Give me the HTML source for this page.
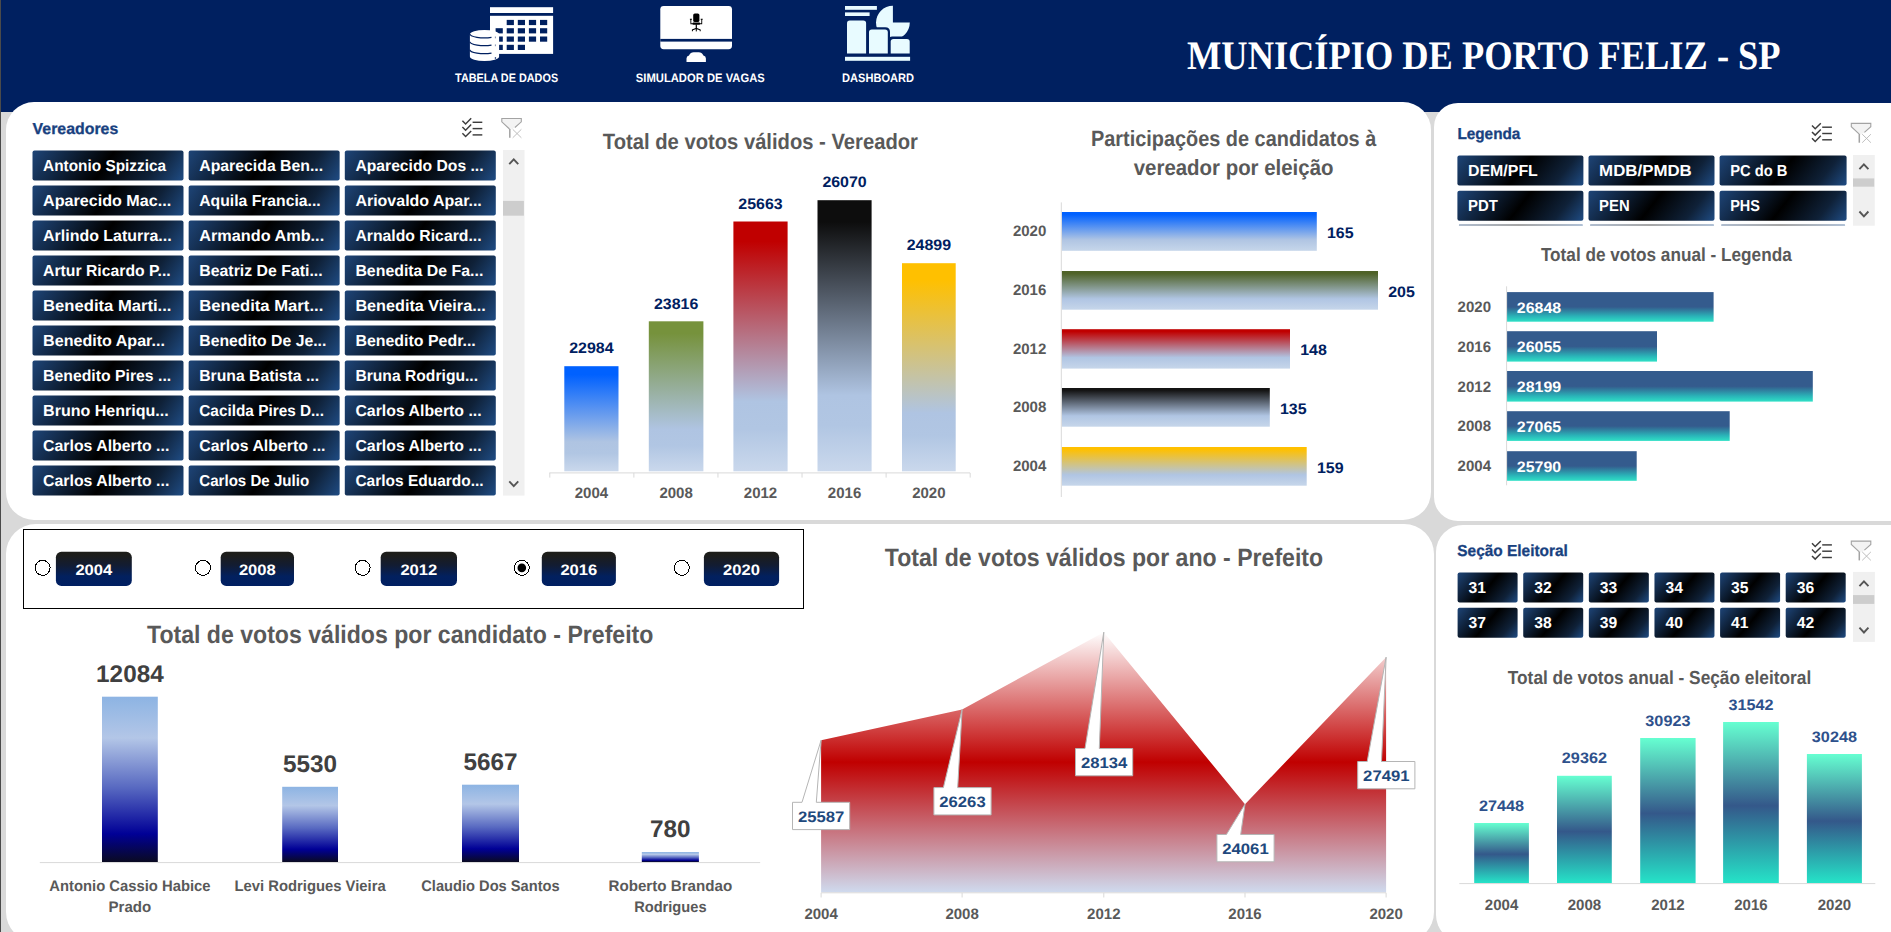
<!DOCTYPE html>
<html lang="pt-BR"><head><meta charset="utf-8"><title>Município de Porto Feliz - SP</title>
<style>
html,body{margin:0;padding:0}
body{width:1891px;height:932px;overflow:hidden;background:#d9d9d9;position:relative;font-family:"Liberation Sans",sans-serif}
#hdr{position:absolute;left:0;top:0;width:1891px;height:111.6px;background:#002060}
.p{position:absolute;background:#fff}
#strip{position:absolute;left:0;top:0;width:1.3px;height:932px;background:#4a4a4a}
.sb,.sb2,.sb3,.sbl{position:absolute;left:0;top:0;border-radius:2px}
.sb{background:linear-gradient(124deg,#1e4578 0%,#000 48%,#0f2138 78%,#1f4c84 100%)}
.sb2{background:linear-gradient(130deg,#1e4578 0%,#000 50%,#0f2138 80%,#1f4c84 100%)}
.sbl{background:linear-gradient(128deg,#1e4578 0%,#000 50%,#0f2138 80%,#1f4c84 100%)}
.sb3{background:linear-gradient(90deg,#1d4376 0%,#000 48%,#1f4f8b 100%);border-radius:1px}
svg{position:absolute;left:0;top:0}
</style></head>
<body>
<div id="hdr"></div>
<div class="p" style="left:6px;top:101.7px;width:1425.3px;height:418.3px;border-radius:28px"></div><div class="p" style="left:1434.2px;top:103px;width:495.8px;height:417.6px;border-radius:24px"></div><div class="p" style="left:6px;top:524.2px;width:1428.3px;height:417.8px;border-radius:30px"></div><div class="p" style="left:1435.7px;top:524.6px;width:494.3px;height:417.4px;border-radius:27px"></div>
<div id="strip"></div>
<div class="sb" style="transform:translate(32.50px,150.50px);width:151.00px;height:30.00px"></div><div class="sb" style="transform:translate(188.65px,150.50px);width:151.00px;height:30.00px"></div><div class="sb" style="transform:translate(344.80px,150.50px);width:151.00px;height:30.00px"></div><div class="sb" style="transform:translate(32.50px,185.50px);width:151.00px;height:30.00px"></div><div class="sb" style="transform:translate(188.65px,185.50px);width:151.00px;height:30.00px"></div><div class="sb" style="transform:translate(344.80px,185.50px);width:151.00px;height:30.00px"></div><div class="sb" style="transform:translate(32.50px,220.50px);width:151.00px;height:30.00px"></div><div class="sb" style="transform:translate(188.65px,220.50px);width:151.00px;height:30.00px"></div><div class="sb" style="transform:translate(344.80px,220.50px);width:151.00px;height:30.00px"></div><div class="sb" style="transform:translate(32.50px,255.50px);width:151.00px;height:30.00px"></div><div class="sb" style="transform:translate(188.65px,255.50px);width:151.00px;height:30.00px"></div><div class="sb" style="transform:translate(344.80px,255.50px);width:151.00px;height:30.00px"></div><div class="sb" style="transform:translate(32.50px,290.50px);width:151.00px;height:30.00px"></div><div class="sb" style="transform:translate(188.65px,290.50px);width:151.00px;height:30.00px"></div><div class="sb" style="transform:translate(344.80px,290.50px);width:151.00px;height:30.00px"></div><div class="sb" style="transform:translate(32.50px,325.50px);width:151.00px;height:30.00px"></div><div class="sb" style="transform:translate(188.65px,325.50px);width:151.00px;height:30.00px"></div><div class="sb" style="transform:translate(344.80px,325.50px);width:151.00px;height:30.00px"></div><div class="sb" style="transform:translate(32.50px,360.50px);width:151.00px;height:30.00px"></div><div class="sb" style="transform:translate(188.65px,360.50px);width:151.00px;height:30.00px"></div><div class="sb" style="transform:translate(344.80px,360.50px);width:151.00px;height:30.00px"></div><div class="sb" style="transform:translate(32.50px,395.50px);width:151.00px;height:30.00px"></div><div class="sb" style="transform:translate(188.65px,395.50px);width:151.00px;height:30.00px"></div><div class="sb" style="transform:translate(344.80px,395.50px);width:151.00px;height:30.00px"></div><div class="sb" style="transform:translate(32.50px,430.50px);width:151.00px;height:30.00px"></div><div class="sb" style="transform:translate(188.65px,430.50px);width:151.00px;height:30.00px"></div><div class="sb" style="transform:translate(344.80px,430.50px);width:151.00px;height:30.00px"></div><div class="sb" style="transform:translate(32.50px,465.50px);width:151.00px;height:30.00px"></div><div class="sb" style="transform:translate(188.65px,465.50px);width:151.00px;height:30.00px"></div><div class="sb" style="transform:translate(344.80px,465.50px);width:151.00px;height:30.00px"></div><div class="sbl" style="transform:translate(1457.40px,155.50px);width:126.30px;height:29.60px"></div><div class="sbl" style="transform:translate(1588.50px,155.50px);width:126.30px;height:29.60px"></div><div class="sbl" style="transform:translate(1719.60px,155.50px);width:127.00px;height:29.60px"></div><div class="sbl" style="transform:translate(1457.40px,190.80px);width:126.30px;height:29.60px"></div><div class="sbl" style="transform:translate(1588.50px,190.80px);width:126.30px;height:29.60px"></div><div class="sbl" style="transform:translate(1719.60px,190.80px);width:127.00px;height:29.60px"></div><div class="sb3" style="transform:translate(1458.90px,224.5px);width:123.50px;height:1.1px;opacity:.7"></div><div class="sb3" style="transform:translate(1590.00px,224.5px);width:123.50px;height:1.1px;opacity:.7"></div><div class="sb3" style="transform:translate(1721.10px,224.5px);width:123.50px;height:1.1px;opacity:.7"></div><div class="sb2" style="transform:translate(1457.60px,572.40px);width:60.40px;height:29.80px"></div><div class="sb2" style="transform:translate(1523.22px,572.40px);width:60.40px;height:29.80px"></div><div class="sb2" style="transform:translate(1588.84px,572.40px);width:60.40px;height:29.80px"></div><div class="sb2" style="transform:translate(1654.46px,572.40px);width:60.40px;height:29.80px"></div><div class="sb2" style="transform:translate(1720.08px,572.40px);width:60.40px;height:29.80px"></div><div class="sb2" style="transform:translate(1785.70px,572.40px);width:60.40px;height:29.80px"></div><div class="sb2" style="transform:translate(1457.60px,607.70px);width:60.40px;height:29.80px"></div><div class="sb2" style="transform:translate(1523.22px,607.70px);width:60.40px;height:29.80px"></div><div class="sb2" style="transform:translate(1588.84px,607.70px);width:60.40px;height:29.80px"></div><div class="sb2" style="transform:translate(1654.46px,607.70px);width:60.40px;height:29.80px"></div><div class="sb2" style="transform:translate(1720.08px,607.70px);width:60.40px;height:29.80px"></div><div class="sb2" style="transform:translate(1785.70px,607.70px);width:60.40px;height:29.80px"></div>
<svg width="1891" height="932" viewBox="0 0 1891 932" text-rendering="geometricPrecision">
<defs><linearGradient id="c1g0" x1="0" y1="0" x2="0" y2="1"><stop offset="0" stop-color="#0061ff"/><stop offset="0.08" stop-color="#0061ff"/><stop offset="0.72" stop-color="#afc4e2"/><stop offset="0.83" stop-color="#b1c6e3"/><stop offset="1" stop-color="#cad8ec"/></linearGradient><linearGradient id="c1g1" x1="0" y1="0" x2="0" y2="1"><stop offset="0" stop-color="#76923c"/><stop offset="0.08" stop-color="#76923c"/><stop offset="0.72" stop-color="#afc4e2"/><stop offset="0.83" stop-color="#b1c6e3"/><stop offset="1" stop-color="#cad8ec"/></linearGradient><linearGradient id="c1g2" x1="0" y1="0" x2="0" y2="1"><stop offset="0" stop-color="#c00000"/><stop offset="0.08" stop-color="#c00000"/><stop offset="0.72" stop-color="#afc4e2"/><stop offset="0.83" stop-color="#b1c6e3"/><stop offset="1" stop-color="#cad8ec"/></linearGradient><linearGradient id="c1g3" x1="0" y1="0" x2="0" y2="1"><stop offset="0" stop-color="#0d0d0d"/><stop offset="0.08" stop-color="#0d0d0d"/><stop offset="0.72" stop-color="#afc4e2"/><stop offset="0.83" stop-color="#b1c6e3"/><stop offset="1" stop-color="#cad8ec"/></linearGradient><linearGradient id="c1g4" x1="0" y1="0" x2="0" y2="1"><stop offset="0" stop-color="#ffc000"/><stop offset="0.08" stop-color="#ffc000"/><stop offset="0.72" stop-color="#afc4e2"/><stop offset="0.83" stop-color="#b1c6e3"/><stop offset="1" stop-color="#cad8ec"/></linearGradient><linearGradient id="c2g0" x1="0" y1="0" x2="0" y2="1"><stop offset="0" stop-color="#0061ff"/><stop offset="0.06" stop-color="#0061ff"/><stop offset="0.72" stop-color="#b0c5e3"/><stop offset="1" stop-color="#c6d6ea"/></linearGradient><linearGradient id="c2g1" x1="0" y1="0" x2="0" y2="1"><stop offset="0" stop-color="#4f6228"/><stop offset="0.06" stop-color="#4f6228"/><stop offset="0.72" stop-color="#b0c5e3"/><stop offset="1" stop-color="#c6d6ea"/></linearGradient><linearGradient id="c2g2" x1="0" y1="0" x2="0" y2="1"><stop offset="0" stop-color="#c00000"/><stop offset="0.06" stop-color="#c00000"/><stop offset="0.72" stop-color="#b0c5e3"/><stop offset="1" stop-color="#c6d6ea"/></linearGradient><linearGradient id="c2g3" x1="0" y1="0" x2="0" y2="1"><stop offset="0" stop-color="#141414"/><stop offset="0.06" stop-color="#141414"/><stop offset="0.72" stop-color="#b0c5e3"/><stop offset="1" stop-color="#c6d6ea"/></linearGradient><linearGradient id="c2g4" x1="0" y1="0" x2="0" y2="1"><stop offset="0" stop-color="#ffc000"/><stop offset="0.06" stop-color="#ffc000"/><stop offset="0.72" stop-color="#b0c5e3"/><stop offset="1" stop-color="#c6d6ea"/></linearGradient><linearGradient id="c3g" x1="0" y1="0" x2="0" y2="1"><stop offset="0" stop-color="#345b8d"/><stop offset="0.5" stop-color="#345b8d"/><stop offset="0.82" stop-color="#2ab4b8"/><stop offset="1" stop-color="#2fe0c6"/></linearGradient><linearGradient id="rbg" x1="0" y1="0" x2="0" y2="1"><stop offset="0" stop-color="#1d1d18"/><stop offset="0.12" stop-color="#1c1d1c"/><stop offset="0.4" stop-color="#121c33"/><stop offset="0.72" stop-color="#02205e"/><stop offset="1" stop-color="#001f62"/></linearGradient><linearGradient id="c4g" x1="0" y1="0" x2="0" y2="1"><stop offset="0" stop-color="#8db4e3"/><stop offset="0.25" stop-color="#b3c6e7"/><stop offset="0.55" stop-color="#5869c1"/><stop offset="0.83" stop-color="#000096"/><stop offset="1" stop-color="#0a0a22"/></linearGradient><linearGradient id="arg" gradientUnits="userSpaceOnUse" x1="0" y1="632" x2="0" y2="892.3"><stop offset="0" stop-color="#ffffff"/><stop offset="0.5" stop-color="#c00000"/><stop offset="1" stop-color="#cfdaee"/></linearGradient><linearGradient id="c6g" x1="0" y1="0" x2="0" y2="1"><stop offset="0" stop-color="#66ffd1"/><stop offset="0.52" stop-color="#34588a"/><stop offset="1" stop-color="#25e3c8"/></linearGradient></defs>
<text x="32.60" y="133.60" font-family="Liberation Sans, sans-serif" font-size="15.90" font-weight="700" fill="#18417f" text-anchor="start" textLength="85.64" lengthAdjust="spacingAndGlyphs" stroke="#18417f" stroke-width="0.3">Vereadores</text>
<g transform="translate(461.90,117.90)" fill="none" stroke="#3d3d3d" stroke-width="1.45"><path d="M0.5 2.80 L3.7 6.00 L9.3 0.40"/><path d="M10.7 4.40 H20.4"/><path d="M0.5 9.10 L3.7 12.30 L9.3 6.70"/><path d="M10.7 10.70 H20.4"/><path d="M0.5 15.40 L3.7 18.60 L9.3 13.00"/><path d="M10.7 17.00 H20.4"/></g>
<g transform="translate(501.00,117.90)" fill="none" stroke="#a3a3a3" stroke-width="1.1"><path d="M0.8 0.6 H20.3 V3.9 L13.6 9.9 L9.1 12.2 V19.8 H8.4 V11 L0.8 3.9 Z" fill="#f3f3f3" stroke="none"/><path d="M13.9 9.6 L20.3 3.9 V0.6 H0.8 V3.9 L8.5 11.1" /><path d="M8.8 11 V19.9" stroke-width="1.5"/><path d="M11.7 11.4 L20.4 19.9 M20.4 11.4 L11.7 19.9" stroke="#b8b8b8" stroke-width="0.9"/></g>
<text x="43.10" y="170.80" font-family="Liberation Sans, sans-serif" font-size="15.90" font-weight="700" fill="#fff" text-anchor="start" textLength="122.95" lengthAdjust="spacingAndGlyphs">Antonio Spizzica</text>
<text x="199.25" y="170.80" font-family="Liberation Sans, sans-serif" font-size="15.90" font-weight="700" fill="#fff" text-anchor="start" textLength="123.88" lengthAdjust="spacingAndGlyphs">Aparecida Ben...</text>
<text x="355.40" y="170.80" font-family="Liberation Sans, sans-serif" font-size="15.90" font-weight="700" fill="#fff" text-anchor="start" textLength="128.17" lengthAdjust="spacingAndGlyphs">Aparecido Dos ...</text>
<text x="43.10" y="205.80" font-family="Liberation Sans, sans-serif" font-size="15.90" font-weight="700" fill="#fff" text-anchor="start" textLength="128.05" lengthAdjust="spacingAndGlyphs">Aparecido Mac...</text>
<text x="199.25" y="205.80" font-family="Liberation Sans, sans-serif" font-size="15.90" font-weight="700" fill="#fff" text-anchor="start" textLength="121.43" lengthAdjust="spacingAndGlyphs">Aquila Francia...</text>
<text x="355.40" y="205.80" font-family="Liberation Sans, sans-serif" font-size="15.90" font-weight="700" fill="#fff" text-anchor="start" textLength="126.40" lengthAdjust="spacingAndGlyphs">Ariovaldo Apar...</text>
<text x="43.10" y="240.80" font-family="Liberation Sans, sans-serif" font-size="15.90" font-weight="700" fill="#fff" text-anchor="start" textLength="128.57" lengthAdjust="spacingAndGlyphs">Arlindo Laturra...</text>
<text x="199.25" y="240.80" font-family="Liberation Sans, sans-serif" font-size="15.90" font-weight="700" fill="#fff" text-anchor="start" textLength="124.91" lengthAdjust="spacingAndGlyphs">Armando Amb...</text>
<text x="355.40" y="240.80" font-family="Liberation Sans, sans-serif" font-size="15.90" font-weight="700" fill="#fff" text-anchor="start" textLength="126.19" lengthAdjust="spacingAndGlyphs">Arnaldo Ricard...</text>
<text x="43.10" y="275.80" font-family="Liberation Sans, sans-serif" font-size="15.90" font-weight="700" fill="#fff" text-anchor="start" textLength="127.55" lengthAdjust="spacingAndGlyphs">Artur Ricardo P...</text>
<text x="199.25" y="275.80" font-family="Liberation Sans, sans-serif" font-size="15.90" font-weight="700" fill="#fff" text-anchor="start" textLength="123.44" lengthAdjust="spacingAndGlyphs">Beatriz De Fati...</text>
<text x="355.40" y="275.80" font-family="Liberation Sans, sans-serif" font-size="15.90" font-weight="700" fill="#fff" text-anchor="start" textLength="127.94" lengthAdjust="spacingAndGlyphs">Benedita De Fa...</text>
<text x="43.10" y="310.80" font-family="Liberation Sans, sans-serif" font-size="15.90" font-weight="700" fill="#fff" text-anchor="start" textLength="128.37" lengthAdjust="spacingAndGlyphs">Benedita Marti...</text>
<text x="199.25" y="310.80" font-family="Liberation Sans, sans-serif" font-size="15.90" font-weight="700" fill="#fff" text-anchor="start" textLength="124.02" lengthAdjust="spacingAndGlyphs">Benedita Mart...</text>
<text x="355.40" y="310.80" font-family="Liberation Sans, sans-serif" font-size="15.90" font-weight="700" fill="#fff" text-anchor="start" textLength="130.27" lengthAdjust="spacingAndGlyphs">Benedita Vieira...</text>
<text x="43.10" y="345.80" font-family="Liberation Sans, sans-serif" font-size="15.90" font-weight="700" fill="#fff" text-anchor="start" textLength="121.80" lengthAdjust="spacingAndGlyphs">Benedito Apar...</text>
<text x="199.25" y="345.80" font-family="Liberation Sans, sans-serif" font-size="15.90" font-weight="700" fill="#fff" text-anchor="start" textLength="127.09" lengthAdjust="spacingAndGlyphs">Benedito De Je...</text>
<text x="355.40" y="345.80" font-family="Liberation Sans, sans-serif" font-size="15.90" font-weight="700" fill="#fff" text-anchor="start" textLength="120.34" lengthAdjust="spacingAndGlyphs">Benedito Pedr...</text>
<text x="43.10" y="380.80" font-family="Liberation Sans, sans-serif" font-size="15.90" font-weight="700" fill="#fff" text-anchor="start" textLength="128.11" lengthAdjust="spacingAndGlyphs">Benedito Pires ...</text>
<text x="199.25" y="380.80" font-family="Liberation Sans, sans-serif" font-size="15.90" font-weight="700" fill="#fff" text-anchor="start" textLength="119.85" lengthAdjust="spacingAndGlyphs">Bruna Batista ...</text>
<text x="355.40" y="380.80" font-family="Liberation Sans, sans-serif" font-size="15.90" font-weight="700" fill="#fff" text-anchor="start" textLength="122.70" lengthAdjust="spacingAndGlyphs">Bruna Rodrigu...</text>
<text x="43.10" y="415.80" font-family="Liberation Sans, sans-serif" font-size="15.90" font-weight="700" fill="#fff" text-anchor="start" textLength="125.57" lengthAdjust="spacingAndGlyphs">Bruno Henriqu...</text>
<text x="199.25" y="415.80" font-family="Liberation Sans, sans-serif" font-size="15.90" font-weight="700" fill="#fff" text-anchor="start" textLength="124.66" lengthAdjust="spacingAndGlyphs">Cacilda Pires D...</text>
<text x="355.40" y="415.80" font-family="Liberation Sans, sans-serif" font-size="15.90" font-weight="700" fill="#fff" text-anchor="start" textLength="126.23" lengthAdjust="spacingAndGlyphs">Carlos Alberto ...</text>
<text x="43.10" y="450.80" font-family="Liberation Sans, sans-serif" font-size="15.90" font-weight="700" fill="#fff" text-anchor="start" textLength="126.23" lengthAdjust="spacingAndGlyphs">Carlos Alberto ...</text>
<text x="199.25" y="450.80" font-family="Liberation Sans, sans-serif" font-size="15.90" font-weight="700" fill="#fff" text-anchor="start" textLength="126.23" lengthAdjust="spacingAndGlyphs">Carlos Alberto ...</text>
<text x="355.40" y="450.80" font-family="Liberation Sans, sans-serif" font-size="15.90" font-weight="700" fill="#fff" text-anchor="start" textLength="126.23" lengthAdjust="spacingAndGlyphs">Carlos Alberto ...</text>
<text x="43.10" y="485.80" font-family="Liberation Sans, sans-serif" font-size="15.90" font-weight="700" fill="#fff" text-anchor="start" textLength="126.23" lengthAdjust="spacingAndGlyphs">Carlos Alberto ...</text>
<text x="199.25" y="485.80" font-family="Liberation Sans, sans-serif" font-size="15.90" font-weight="700" fill="#fff" text-anchor="start" textLength="109.98" lengthAdjust="spacingAndGlyphs">Carlos De Julio</text>
<text x="355.40" y="485.80" font-family="Liberation Sans, sans-serif" font-size="15.90" font-weight="700" fill="#fff" text-anchor="start" textLength="128.23" lengthAdjust="spacingAndGlyphs">Carlos Eduardo...</text>
<rect x="503.00" y="150.00" width="21.50" height="345.60" fill="#f0f0f0"/>
<rect x="503.00" y="200.90" width="20.90" height="14.80" fill="#cdcdcd"/>
<path d="M509.25 164.20 L513.75 159.40 L518.25 164.20" fill="none" stroke="#555" stroke-width="1.9"/>
<path d="M509.25 481.40 L513.75 486.20 L518.25 481.40" fill="none" stroke="#555" stroke-width="1.9"/>
<text x="760.40" y="149.20" font-family="Liberation Sans, sans-serif" font-size="22.00" font-weight="700" fill="#595959" text-anchor="middle" textLength="315.08" lengthAdjust="spacingAndGlyphs">Total de votos válidos - Vereador</text>
<rect x="564.30" y="366.20" width="54.20" height="105.10" fill="url(#c1g0)"/>
<text x="591.40" y="353.40" font-family="Liberation Sans, sans-serif" font-size="15.20" font-weight="700" fill="#002060" text-anchor="middle" textLength="44.35" lengthAdjust="spacingAndGlyphs">22984</text>
<text x="591.40" y="498.40" font-family="Liberation Sans, sans-serif" font-size="15.20" font-weight="700" fill="#595959" text-anchor="middle" textLength="33.45" lengthAdjust="spacingAndGlyphs">2004</text>
<rect x="648.80" y="321.30" width="54.60" height="150.00" fill="url(#c1g1)"/>
<text x="676.10" y="308.50" font-family="Liberation Sans, sans-serif" font-size="15.20" font-weight="700" fill="#002060" text-anchor="middle" textLength="44.35" lengthAdjust="spacingAndGlyphs">23816</text>
<text x="676.10" y="498.40" font-family="Liberation Sans, sans-serif" font-size="15.20" font-weight="700" fill="#595959" text-anchor="middle" textLength="33.45" lengthAdjust="spacingAndGlyphs">2008</text>
<rect x="733.40" y="221.50" width="54.20" height="249.80" fill="url(#c1g2)"/>
<text x="760.50" y="208.70" font-family="Liberation Sans, sans-serif" font-size="15.20" font-weight="700" fill="#002060" text-anchor="middle" textLength="44.35" lengthAdjust="spacingAndGlyphs">25663</text>
<text x="760.50" y="498.40" font-family="Liberation Sans, sans-serif" font-size="15.20" font-weight="700" fill="#595959" text-anchor="middle" textLength="33.45" lengthAdjust="spacingAndGlyphs">2012</text>
<rect x="817.50" y="200.20" width="54.10" height="271.10" fill="url(#c1g3)"/>
<text x="844.55" y="187.40" font-family="Liberation Sans, sans-serif" font-size="15.20" font-weight="700" fill="#002060" text-anchor="middle" textLength="44.35" lengthAdjust="spacingAndGlyphs">26070</text>
<text x="844.55" y="498.40" font-family="Liberation Sans, sans-serif" font-size="15.20" font-weight="700" fill="#595959" text-anchor="middle" textLength="33.45" lengthAdjust="spacingAndGlyphs">2016</text>
<rect x="902.00" y="263.20" width="53.70" height="208.10" fill="url(#c1g4)"/>
<text x="928.85" y="250.40" font-family="Liberation Sans, sans-serif" font-size="15.20" font-weight="700" fill="#002060" text-anchor="middle" textLength="44.35" lengthAdjust="spacingAndGlyphs">24899</text>
<text x="928.85" y="498.40" font-family="Liberation Sans, sans-serif" font-size="15.20" font-weight="700" fill="#595959" text-anchor="middle" textLength="33.45" lengthAdjust="spacingAndGlyphs">2020</text>
<line x1="549.40" y1="472.90" x2="970.00" y2="472.90" stroke="#d9d9d9" stroke-width="1"/>
<line x1="549.80" y1="472.90" x2="549.80" y2="477.60" stroke="#d9d9d9" stroke-width="1"/>
<line x1="633.88" y1="472.90" x2="633.88" y2="477.60" stroke="#d9d9d9" stroke-width="1"/>
<line x1="717.96" y1="472.90" x2="717.96" y2="477.60" stroke="#d9d9d9" stroke-width="1"/>
<line x1="802.04" y1="472.90" x2="802.04" y2="477.60" stroke="#d9d9d9" stroke-width="1"/>
<line x1="886.12" y1="472.90" x2="886.12" y2="477.60" stroke="#d9d9d9" stroke-width="1"/>
<line x1="970.20" y1="472.90" x2="970.20" y2="477.60" stroke="#d9d9d9" stroke-width="1"/>
<text x="1233.60" y="146.30" font-family="Liberation Sans, sans-serif" font-size="22.00" font-weight="700" fill="#595959" text-anchor="middle" textLength="285.25" lengthAdjust="spacingAndGlyphs">Participações de candidatos à</text>
<text x="1233.60" y="175.00" font-family="Liberation Sans, sans-serif" font-size="22.00" font-weight="700" fill="#595959" text-anchor="middle" textLength="199.75" lengthAdjust="spacingAndGlyphs">vereador por eleição</text>
<rect x="1061.80" y="212.00" width="255.00" height="38.80" fill="url(#c2g0)"/>
<text x="1029.60" y="236.20" font-family="Liberation Sans, sans-serif" font-size="15.20" font-weight="700" fill="#595959" text-anchor="middle" textLength="33.45" lengthAdjust="spacingAndGlyphs">2020</text>
<text x="1327.00" y="237.80" font-family="Liberation Sans, sans-serif" font-size="15.20" font-weight="700" fill="#002060" text-anchor="start" textLength="26.61" lengthAdjust="spacingAndGlyphs">165</text>
<rect x="1061.80" y="271.00" width="316.20" height="38.70" fill="url(#c2g1)"/>
<text x="1029.60" y="295.15" font-family="Liberation Sans, sans-serif" font-size="15.20" font-weight="700" fill="#595959" text-anchor="middle" textLength="33.45" lengthAdjust="spacingAndGlyphs">2016</text>
<text x="1388.20" y="296.75" font-family="Liberation Sans, sans-serif" font-size="15.20" font-weight="700" fill="#002060" text-anchor="start" textLength="26.61" lengthAdjust="spacingAndGlyphs">205</text>
<rect x="1061.80" y="329.20" width="228.20" height="39.40" fill="url(#c2g2)"/>
<text x="1029.60" y="353.70" font-family="Liberation Sans, sans-serif" font-size="15.20" font-weight="700" fill="#595959" text-anchor="middle" textLength="33.45" lengthAdjust="spacingAndGlyphs">2012</text>
<text x="1300.20" y="355.30" font-family="Liberation Sans, sans-serif" font-size="15.20" font-weight="700" fill="#002060" text-anchor="start" textLength="26.61" lengthAdjust="spacingAndGlyphs">148</text>
<rect x="1061.80" y="388.00" width="208.00" height="38.70" fill="url(#c2g3)"/>
<text x="1029.60" y="412.15" font-family="Liberation Sans, sans-serif" font-size="15.20" font-weight="700" fill="#595959" text-anchor="middle" textLength="33.45" lengthAdjust="spacingAndGlyphs">2008</text>
<text x="1280.00" y="413.75" font-family="Liberation Sans, sans-serif" font-size="15.20" font-weight="700" fill="#002060" text-anchor="start" textLength="26.61" lengthAdjust="spacingAndGlyphs">135</text>
<rect x="1061.80" y="447.00" width="244.90" height="38.70" fill="url(#c2g4)"/>
<text x="1029.60" y="471.15" font-family="Liberation Sans, sans-serif" font-size="15.20" font-weight="700" fill="#595959" text-anchor="middle" textLength="33.45" lengthAdjust="spacingAndGlyphs">2004</text>
<text x="1316.90" y="472.75" font-family="Liberation Sans, sans-serif" font-size="15.20" font-weight="700" fill="#002060" text-anchor="start" textLength="26.61" lengthAdjust="spacingAndGlyphs">159</text>
<line x1="1061.30" y1="202.40" x2="1061.30" y2="497.00" stroke="#d9d9d9" stroke-width="1"/>
<text x="1457.40" y="139.00" font-family="Liberation Sans, sans-serif" font-size="15.90" font-weight="700" fill="#18417f" text-anchor="start" textLength="62.97" lengthAdjust="spacingAndGlyphs" stroke="#18417f" stroke-width="0.3">Legenda</text>
<g transform="translate(1811.50,122.80)" fill="none" stroke="#3d3d3d" stroke-width="1.45"><path d="M0.5 2.80 L3.7 6.00 L9.3 0.40"/><path d="M10.7 4.40 H20.4"/><path d="M0.5 9.10 L3.7 12.30 L9.3 6.70"/><path d="M10.7 10.70 H20.4"/><path d="M0.5 15.40 L3.7 18.60 L9.3 13.00"/><path d="M10.7 17.00 H20.4"/></g>
<g transform="translate(1850.50,122.80)" fill="none" stroke="#a3a3a3" stroke-width="1.1"><path d="M0.8 0.6 H20.3 V3.9 L13.6 9.9 L9.1 12.2 V19.8 H8.4 V11 L0.8 3.9 Z" fill="#f3f3f3" stroke="none"/><path d="M13.9 9.6 L20.3 3.9 V0.6 H0.8 V3.9 L8.5 11.1" /><path d="M8.8 11 V19.9" stroke-width="1.5"/><path d="M11.7 11.4 L20.4 19.9 M20.4 11.4 L11.7 19.9" stroke="#b8b8b8" stroke-width="0.9"/></g>
<text x="1468.00" y="175.80" font-family="Liberation Sans, sans-serif" font-size="15.90" font-weight="700" fill="#fff" text-anchor="start" textLength="69.82" lengthAdjust="spacingAndGlyphs">DEM/PFL</text>
<text x="1599.10" y="175.80" font-family="Liberation Sans, sans-serif" font-size="15.90" font-weight="700" fill="#fff" text-anchor="start" textLength="92.67" lengthAdjust="spacingAndGlyphs">MDB/PMDB</text>
<text x="1730.20" y="175.80" font-family="Liberation Sans, sans-serif" font-size="15.90" font-weight="700" fill="#fff" text-anchor="start" textLength="57.30" lengthAdjust="spacingAndGlyphs">PC do B</text>
<text x="1468.00" y="211.10" font-family="Liberation Sans, sans-serif" font-size="15.90" font-weight="700" fill="#fff" text-anchor="start" textLength="29.91" lengthAdjust="spacingAndGlyphs">PDT</text>
<text x="1599.10" y="211.10" font-family="Liberation Sans, sans-serif" font-size="15.90" font-weight="700" fill="#fff" text-anchor="start" textLength="30.55" lengthAdjust="spacingAndGlyphs">PEN</text>
<text x="1730.20" y="211.10" font-family="Liberation Sans, sans-serif" font-size="15.90" font-weight="700" fill="#fff" text-anchor="start" textLength="29.77" lengthAdjust="spacingAndGlyphs">PHS</text>
<rect x="1853.00" y="155.00" width="21.80" height="70.70" fill="#f0f0f0"/>
<rect x="1853.00" y="178.40" width="21.20" height="8.30" fill="#cdcdcd"/>
<path d="M1859.40 169.20 L1863.90 164.40 L1868.40 169.20" fill="none" stroke="#555" stroke-width="1.9"/>
<path d="M1859.40 211.50 L1863.90 216.30 L1868.40 211.50" fill="none" stroke="#555" stroke-width="1.9"/>
<text x="1666.30" y="261.00" font-family="Liberation Sans, sans-serif" font-size="18.86" font-weight="700" fill="#595959" text-anchor="middle" textLength="250.81" lengthAdjust="spacingAndGlyphs">Total de votos anual - Legenda</text>
<rect x="1507.00" y="292.10" width="206.60" height="29.60" fill="url(#c3g)"/>
<text x="1474.30" y="312.10" font-family="Liberation Sans, sans-serif" font-size="15.20" font-weight="700" fill="#595959" text-anchor="middle" textLength="33.45" lengthAdjust="spacingAndGlyphs">2020</text>
<text x="1516.80" y="312.90" font-family="Liberation Sans, sans-serif" font-size="15.20" font-weight="700" fill="#fff" text-anchor="start" textLength="44.35" lengthAdjust="spacingAndGlyphs">26848</text>
<rect x="1507.00" y="331.20" width="150.00" height="30.40" fill="url(#c3g)"/>
<text x="1474.30" y="351.60" font-family="Liberation Sans, sans-serif" font-size="15.20" font-weight="700" fill="#595959" text-anchor="middle" textLength="33.45" lengthAdjust="spacingAndGlyphs">2016</text>
<text x="1516.80" y="352.40" font-family="Liberation Sans, sans-serif" font-size="15.20" font-weight="700" fill="#fff" text-anchor="start" textLength="44.35" lengthAdjust="spacingAndGlyphs">26055</text>
<rect x="1507.00" y="371.00" width="305.80" height="30.60" fill="url(#c3g)"/>
<text x="1474.30" y="391.50" font-family="Liberation Sans, sans-serif" font-size="15.20" font-weight="700" fill="#595959" text-anchor="middle" textLength="33.45" lengthAdjust="spacingAndGlyphs">2012</text>
<text x="1516.80" y="392.30" font-family="Liberation Sans, sans-serif" font-size="15.20" font-weight="700" fill="#fff" text-anchor="start" textLength="44.35" lengthAdjust="spacingAndGlyphs">28199</text>
<rect x="1507.00" y="411.20" width="222.70" height="29.70" fill="url(#c3g)"/>
<text x="1474.30" y="431.25" font-family="Liberation Sans, sans-serif" font-size="15.20" font-weight="700" fill="#595959" text-anchor="middle" textLength="33.45" lengthAdjust="spacingAndGlyphs">2008</text>
<text x="1516.80" y="432.05" font-family="Liberation Sans, sans-serif" font-size="15.20" font-weight="700" fill="#fff" text-anchor="start" textLength="44.35" lengthAdjust="spacingAndGlyphs">27065</text>
<rect x="1507.00" y="451.20" width="129.70" height="29.60" fill="url(#c3g)"/>
<text x="1474.30" y="471.20" font-family="Liberation Sans, sans-serif" font-size="15.20" font-weight="700" fill="#595959" text-anchor="middle" textLength="33.45" lengthAdjust="spacingAndGlyphs">2004</text>
<text x="1516.80" y="472.00" font-family="Liberation Sans, sans-serif" font-size="15.20" font-weight="700" fill="#fff" text-anchor="start" textLength="44.35" lengthAdjust="spacingAndGlyphs">25790</text>
<line x1="1506.60" y1="286.30" x2="1506.60" y2="485.30" stroke="#d9d9d9" stroke-width="1"/>
<rect x="23.5" y="529.5" width="780" height="79" fill="none" stroke="#000" stroke-width="1"/>
<circle cx="42.6" cy="567.9" r="7.5" fill="#fff" stroke="#000" stroke-width="1" shape-rendering="crispEdges"/>
<rect x="55.9" y="551.8" width="75.90" height="34.1" rx="5.5" fill="url(#rbg)"/>
<text x="93.85" y="574.90" font-family="Liberation Sans, sans-serif" font-size="15.10" font-weight="700" fill="#fff" text-anchor="middle" textLength="36.90" lengthAdjust="spacingAndGlyphs">2004</text>
<circle cx="203.0" cy="567.9" r="7.5" fill="#fff" stroke="#000" stroke-width="1" shape-rendering="crispEdges"/>
<rect x="220.7" y="551.8" width="73.30" height="34.1" rx="5.5" fill="url(#rbg)"/>
<text x="257.35" y="574.90" font-family="Liberation Sans, sans-serif" font-size="15.10" font-weight="700" fill="#fff" text-anchor="middle" textLength="36.90" lengthAdjust="spacingAndGlyphs">2008</text>
<circle cx="362.6" cy="567.9" r="7.5" fill="#fff" stroke="#000" stroke-width="1" shape-rendering="crispEdges"/>
<rect x="380.7" y="551.8" width="76.30" height="34.1" rx="5.5" fill="url(#rbg)"/>
<text x="418.85" y="574.90" font-family="Liberation Sans, sans-serif" font-size="15.10" font-weight="700" fill="#fff" text-anchor="middle" textLength="36.90" lengthAdjust="spacingAndGlyphs">2012</text>
<circle cx="521.8" cy="567.9" r="7.5" fill="#fff" stroke="#000" stroke-width="1" shape-rendering="crispEdges"/>
<circle cx="521.8" cy="567.9" r="4.3" fill="#000"/>
<rect x="541.8" y="551.8" width="74.10" height="34.1" rx="5.5" fill="url(#rbg)"/>
<text x="578.85" y="574.90" font-family="Liberation Sans, sans-serif" font-size="15.10" font-weight="700" fill="#fff" text-anchor="middle" textLength="36.90" lengthAdjust="spacingAndGlyphs">2016</text>
<circle cx="681.8" cy="567.9" r="7.5" fill="#fff" stroke="#000" stroke-width="1" shape-rendering="crispEdges"/>
<rect x="703.9" y="551.8" width="75.20" height="34.1" rx="5.5" fill="url(#rbg)"/>
<text x="741.50" y="574.90" font-family="Liberation Sans, sans-serif" font-size="15.10" font-weight="700" fill="#fff" text-anchor="middle" textLength="36.90" lengthAdjust="spacingAndGlyphs">2020</text>
<text x="400.20" y="643.00" font-family="Liberation Sans, sans-serif" font-size="25.15" font-weight="700" fill="#595959" text-anchor="middle" textLength="506.42" lengthAdjust="spacingAndGlyphs">Total de votos válidos por candidato - Prefeito</text>
<rect x="102.00" y="696.70" width="55.80" height="165.30" fill="url(#c4g)"/>
<text x="129.90" y="681.90" font-family="Liberation Sans, sans-serif" font-size="24.10" font-weight="700" fill="#404040" text-anchor="middle" textLength="67.59" lengthAdjust="spacingAndGlyphs">12084</text>
<text x="129.90" y="890.70" font-family="Liberation Sans, sans-serif" font-size="15.30" font-weight="700" fill="#595959" text-anchor="middle" textLength="161.22" lengthAdjust="spacingAndGlyphs">Antonio Cassio Habice</text>
<text x="129.90" y="911.60" font-family="Liberation Sans, sans-serif" font-size="15.30" font-weight="700" fill="#595959" text-anchor="middle" textLength="42.59" lengthAdjust="spacingAndGlyphs">Prado</text>
<rect x="282.20" y="786.80" width="55.80" height="75.20" fill="url(#c4g)"/>
<text x="310.10" y="772.00" font-family="Liberation Sans, sans-serif" font-size="24.10" font-weight="700" fill="#404040" text-anchor="middle" textLength="54.07" lengthAdjust="spacingAndGlyphs">5530</text>
<text x="310.10" y="890.70" font-family="Liberation Sans, sans-serif" font-size="15.30" font-weight="700" fill="#595959" text-anchor="middle" textLength="151.19" lengthAdjust="spacingAndGlyphs">Levi Rodrigues Vieira</text>
<rect x="462.00" y="784.70" width="57.00" height="77.30" fill="url(#c4g)"/>
<text x="490.50" y="769.90" font-family="Liberation Sans, sans-serif" font-size="24.10" font-weight="700" fill="#404040" text-anchor="middle" textLength="54.07" lengthAdjust="spacingAndGlyphs">5667</text>
<text x="490.50" y="890.70" font-family="Liberation Sans, sans-serif" font-size="15.30" font-weight="700" fill="#595959" text-anchor="middle" textLength="138.45" lengthAdjust="spacingAndGlyphs">Claudio Dos Santos</text>
<rect x="641.80" y="852.00" width="57.10" height="10.00" fill="url(#c4g)"/>
<text x="670.35" y="837.20" font-family="Liberation Sans, sans-serif" font-size="24.10" font-weight="700" fill="#404040" text-anchor="middle" textLength="40.56" lengthAdjust="spacingAndGlyphs">780</text>
<text x="670.35" y="890.70" font-family="Liberation Sans, sans-serif" font-size="15.30" font-weight="700" fill="#595959" text-anchor="middle" textLength="123.75" lengthAdjust="spacingAndGlyphs">Roberto Brandao</text>
<text x="670.35" y="911.60" font-family="Liberation Sans, sans-serif" font-size="15.30" font-weight="700" fill="#595959" text-anchor="middle" textLength="72.34" lengthAdjust="spacingAndGlyphs">Rodrigues</text>
<line x1="39.80" y1="862.60" x2="760.20" y2="862.60" stroke="#d9d9d9" stroke-width="1"/>
<text x="1104.00" y="566.00" font-family="Liberation Sans, sans-serif" font-size="25.15" font-weight="700" fill="#595959" text-anchor="middle" textLength="438.33" lengthAdjust="spacingAndGlyphs">Total de votos válidos por ano - Prefeito</text>
<path d="M821.1 740.2 L962.1 709.5 L1103.8 632.2 L1245.0 804.2 L1386.1 657.2 L1386.1 892.3 L821.1 892.3 Z" fill="url(#arg)"/>
<line x1="821.10" y1="892.80" x2="1386.10" y2="892.80" stroke="#d9d9d9" stroke-width="1"/>
<line x1="821.10" y1="892.80" x2="821.10" y2="897.50" stroke="#d9d9d9" stroke-width="1"/>
<text x="821.10" y="918.80" font-family="Liberation Sans, sans-serif" font-size="15.20" font-weight="700" fill="#595959" text-anchor="middle" textLength="33.45" lengthAdjust="spacingAndGlyphs">2004</text>
<line x1="962.10" y1="892.80" x2="962.10" y2="897.50" stroke="#d9d9d9" stroke-width="1"/>
<text x="962.10" y="918.80" font-family="Liberation Sans, sans-serif" font-size="15.20" font-weight="700" fill="#595959" text-anchor="middle" textLength="33.45" lengthAdjust="spacingAndGlyphs">2008</text>
<line x1="1103.80" y1="892.80" x2="1103.80" y2="897.50" stroke="#d9d9d9" stroke-width="1"/>
<text x="1103.80" y="918.80" font-family="Liberation Sans, sans-serif" font-size="15.20" font-weight="700" fill="#595959" text-anchor="middle" textLength="33.45" lengthAdjust="spacingAndGlyphs">2012</text>
<line x1="1245.00" y1="892.80" x2="1245.00" y2="897.50" stroke="#d9d9d9" stroke-width="1"/>
<text x="1245.00" y="918.80" font-family="Liberation Sans, sans-serif" font-size="15.20" font-weight="700" fill="#595959" text-anchor="middle" textLength="33.45" lengthAdjust="spacingAndGlyphs">2016</text>
<line x1="1386.10" y1="892.80" x2="1386.10" y2="897.50" stroke="#d9d9d9" stroke-width="1"/>
<text x="1386.10" y="918.80" font-family="Liberation Sans, sans-serif" font-size="15.20" font-weight="700" fill="#595959" text-anchor="middle" textLength="33.45" lengthAdjust="spacingAndGlyphs">2020</text>
<path d="M792.5 802.3 L802.0 802.3 L821.1 740.2 L816.3 802.3 L849.7 802.3 L849.7 829.6 L792.5 829.6 Z" fill="#fff" stroke="#b5b5b5" stroke-width="1" stroke-linejoin="miter"/>
<text x="821.10" y="821.90" font-family="Liberation Sans, sans-serif" font-size="15.20" font-weight="700" fill="#1f497d" text-anchor="middle" textLength="46.38" lengthAdjust="spacingAndGlyphs">25587</text>
<path d="M933.9 787.6 L943.4 787.6 L962.1 709.5 L957.7 787.6 L991.1 787.6 L991.1 814.9 L933.9 814.9 Z" fill="#fff" stroke="#b5b5b5" stroke-width="1" stroke-linejoin="miter"/>
<text x="962.50" y="807.20" font-family="Liberation Sans, sans-serif" font-size="15.20" font-weight="700" fill="#1f497d" text-anchor="middle" textLength="46.38" lengthAdjust="spacingAndGlyphs">26263</text>
<path d="M1075.5 748.5 L1085.0 748.5 L1103.8 632.2 L1099.3 748.5 L1132.7 748.5 L1132.7 775.8 L1075.5 775.8 Z" fill="#fff" stroke="#b5b5b5" stroke-width="1" stroke-linejoin="miter"/>
<text x="1104.10" y="768.10" font-family="Liberation Sans, sans-serif" font-size="15.20" font-weight="700" fill="#1f497d" text-anchor="middle" textLength="46.38" lengthAdjust="spacingAndGlyphs">28134</text>
<path d="M1216.9 834.5 L1226.4 834.5 L1245.0 804.2 L1240.7 834.5 L1274.1 834.5 L1274.1 861.8 L1216.9 861.8 Z" fill="#fff" stroke="#b5b5b5" stroke-width="1" stroke-linejoin="miter"/>
<text x="1245.50" y="854.10" font-family="Liberation Sans, sans-serif" font-size="15.20" font-weight="700" fill="#1f497d" text-anchor="middle" textLength="46.38" lengthAdjust="spacingAndGlyphs">24061</text>
<path d="M1357.7 761.5 L1367.2 761.5 L1386.1 657.2 L1381.5 761.5 L1414.9 761.5 L1414.9 788.8 L1357.7 788.8 Z" fill="#fff" stroke="#b5b5b5" stroke-width="1" stroke-linejoin="miter"/>
<text x="1386.30" y="781.10" font-family="Liberation Sans, sans-serif" font-size="15.20" font-weight="700" fill="#1f497d" text-anchor="middle" textLength="46.38" lengthAdjust="spacingAndGlyphs">27491</text>
<text x="1457.30" y="556.00" font-family="Liberation Sans, sans-serif" font-size="15.90" font-weight="700" fill="#18417f" text-anchor="start" textLength="110.58" lengthAdjust="spacingAndGlyphs" stroke="#18417f" stroke-width="0.3">Seção Eleitoral</text>
<g transform="translate(1811.50,540.50)" fill="none" stroke="#3d3d3d" stroke-width="1.45"><path d="M0.5 2.80 L3.7 6.00 L9.3 0.40"/><path d="M10.7 4.40 H20.4"/><path d="M0.5 9.10 L3.7 12.30 L9.3 6.70"/><path d="M10.7 10.70 H20.4"/><path d="M0.5 15.40 L3.7 18.60 L9.3 13.00"/><path d="M10.7 17.00 H20.4"/></g>
<g transform="translate(1850.50,540.50)" fill="none" stroke="#a3a3a3" stroke-width="1.1"><path d="M0.8 0.6 H20.3 V3.9 L13.6 9.9 L9.1 12.2 V19.8 H8.4 V11 L0.8 3.9 Z" fill="#f3f3f3" stroke="none"/><path d="M13.9 9.6 L20.3 3.9 V0.6 H0.8 V3.9 L8.5 11.1" /><path d="M8.8 11 V19.9" stroke-width="1.5"/><path d="M11.7 11.4 L20.4 19.9 M20.4 11.4 L11.7 19.9" stroke="#b8b8b8" stroke-width="0.9"/></g>
<text x="1468.60" y="592.80" font-family="Liberation Sans, sans-serif" font-size="15.90" font-weight="700" fill="#fff" text-anchor="start" textLength="17.44" lengthAdjust="spacingAndGlyphs">31</text>
<text x="1534.22" y="592.80" font-family="Liberation Sans, sans-serif" font-size="15.90" font-weight="700" fill="#fff" text-anchor="start" textLength="17.44" lengthAdjust="spacingAndGlyphs">32</text>
<text x="1599.84" y="592.80" font-family="Liberation Sans, sans-serif" font-size="15.90" font-weight="700" fill="#fff" text-anchor="start" textLength="17.44" lengthAdjust="spacingAndGlyphs">33</text>
<text x="1665.46" y="592.80" font-family="Liberation Sans, sans-serif" font-size="15.90" font-weight="700" fill="#fff" text-anchor="start" textLength="17.44" lengthAdjust="spacingAndGlyphs">34</text>
<text x="1731.08" y="592.80" font-family="Liberation Sans, sans-serif" font-size="15.90" font-weight="700" fill="#fff" text-anchor="start" textLength="17.44" lengthAdjust="spacingAndGlyphs">35</text>
<text x="1796.70" y="592.80" font-family="Liberation Sans, sans-serif" font-size="15.90" font-weight="700" fill="#fff" text-anchor="start" textLength="17.44" lengthAdjust="spacingAndGlyphs">36</text>
<text x="1468.60" y="628.10" font-family="Liberation Sans, sans-serif" font-size="15.90" font-weight="700" fill="#fff" text-anchor="start" textLength="17.44" lengthAdjust="spacingAndGlyphs">37</text>
<text x="1534.22" y="628.10" font-family="Liberation Sans, sans-serif" font-size="15.90" font-weight="700" fill="#fff" text-anchor="start" textLength="17.44" lengthAdjust="spacingAndGlyphs">38</text>
<text x="1599.84" y="628.10" font-family="Liberation Sans, sans-serif" font-size="15.90" font-weight="700" fill="#fff" text-anchor="start" textLength="17.44" lengthAdjust="spacingAndGlyphs">39</text>
<text x="1665.46" y="628.10" font-family="Liberation Sans, sans-serif" font-size="15.90" font-weight="700" fill="#fff" text-anchor="start" textLength="17.44" lengthAdjust="spacingAndGlyphs">40</text>
<text x="1731.08" y="628.10" font-family="Liberation Sans, sans-serif" font-size="15.90" font-weight="700" fill="#fff" text-anchor="start" textLength="17.44" lengthAdjust="spacingAndGlyphs">41</text>
<text x="1796.70" y="628.10" font-family="Liberation Sans, sans-serif" font-size="15.90" font-weight="700" fill="#fff" text-anchor="start" textLength="17.44" lengthAdjust="spacingAndGlyphs">42</text>
<rect x="1853.00" y="571.90" width="21.90" height="70.00" fill="#f0f0f0"/>
<rect x="1853.00" y="595.10" width="21.30" height="8.80" fill="#cdcdcd"/>
<path d="M1859.45 586.10 L1863.95 581.30 L1868.45 586.10" fill="none" stroke="#555" stroke-width="1.9"/>
<path d="M1859.45 627.70 L1863.95 632.50 L1868.45 627.70" fill="none" stroke="#555" stroke-width="1.9"/>
<text x="1659.50" y="684.00" font-family="Liberation Sans, sans-serif" font-size="18.86" font-weight="700" fill="#595959" text-anchor="middle" textLength="303.44" lengthAdjust="spacingAndGlyphs">Total de votos anual - Seção eleitoral</text>
<rect x="1474.20" y="823.00" width="54.70" height="60.00" fill="url(#c6g)"/>
<text x="1501.55" y="810.60" font-family="Liberation Sans, sans-serif" font-size="15.20" font-weight="700" fill="#2e518c" text-anchor="middle" textLength="45.11" lengthAdjust="spacingAndGlyphs">27448</text>
<text x="1501.55" y="909.60" font-family="Liberation Sans, sans-serif" font-size="15.20" font-weight="700" fill="#595959" text-anchor="middle" textLength="33.45" lengthAdjust="spacingAndGlyphs">2004</text>
<rect x="1557.00" y="775.80" width="54.80" height="107.20" fill="url(#c6g)"/>
<text x="1584.40" y="763.40" font-family="Liberation Sans, sans-serif" font-size="15.20" font-weight="700" fill="#2e518c" text-anchor="middle" textLength="45.11" lengthAdjust="spacingAndGlyphs">29362</text>
<text x="1584.40" y="909.60" font-family="Liberation Sans, sans-serif" font-size="15.20" font-weight="700" fill="#595959" text-anchor="middle" textLength="33.45" lengthAdjust="spacingAndGlyphs">2008</text>
<rect x="1640.20" y="738.00" width="55.40" height="145.00" fill="url(#c6g)"/>
<text x="1667.90" y="725.60" font-family="Liberation Sans, sans-serif" font-size="15.20" font-weight="700" fill="#2e518c" text-anchor="middle" textLength="45.11" lengthAdjust="spacingAndGlyphs">30923</text>
<text x="1667.90" y="909.60" font-family="Liberation Sans, sans-serif" font-size="15.20" font-weight="700" fill="#595959" text-anchor="middle" textLength="33.45" lengthAdjust="spacingAndGlyphs">2012</text>
<rect x="1723.10" y="722.00" width="55.70" height="161.00" fill="url(#c6g)"/>
<text x="1750.95" y="709.60" font-family="Liberation Sans, sans-serif" font-size="15.20" font-weight="700" fill="#2e518c" text-anchor="middle" textLength="45.11" lengthAdjust="spacingAndGlyphs">31542</text>
<text x="1750.95" y="909.60" font-family="Liberation Sans, sans-serif" font-size="15.20" font-weight="700" fill="#595959" text-anchor="middle" textLength="33.45" lengthAdjust="spacingAndGlyphs">2016</text>
<rect x="1806.90" y="754.00" width="55.00" height="129.00" fill="url(#c6g)"/>
<text x="1834.40" y="741.60" font-family="Liberation Sans, sans-serif" font-size="15.20" font-weight="700" fill="#2e518c" text-anchor="middle" textLength="45.11" lengthAdjust="spacingAndGlyphs">30248</text>
<text x="1834.40" y="909.60" font-family="Liberation Sans, sans-serif" font-size="15.20" font-weight="700" fill="#595959" text-anchor="middle" textLength="33.45" lengthAdjust="spacingAndGlyphs">2020</text>
<line x1="1459.30" y1="883.60" x2="1875.30" y2="883.60" stroke="#d9d9d9" stroke-width="1"/>
<text x="506.60" y="82.20" font-family="Liberation Sans, sans-serif" font-size="12.20" font-weight="700" fill="#fff" text-anchor="middle" textLength="103.06" lengthAdjust="spacingAndGlyphs">TABELA DE DADOS</text>
<text x="700.30" y="82.20" font-family="Liberation Sans, sans-serif" font-size="12.20" font-weight="700" fill="#fff" text-anchor="middle" textLength="128.89" lengthAdjust="spacingAndGlyphs">SIMULADOR DE VAGAS</text>
<text x="878.00" y="82.20" font-family="Liberation Sans, sans-serif" font-size="12.20" font-weight="700" fill="#fff" text-anchor="middle" textLength="71.81" lengthAdjust="spacingAndGlyphs">DASHBOARD</text>
<text x="1187" y="69" font-family="Liberation Serif, serif" font-size="40.5" font-weight="700" fill="#fff" textLength="593.6" lengthAdjust="spacingAndGlyphs">MUNICÍPIO DE PORTO FELIZ - SP</text>
<g fill="#fff"><rect x="490" y="7.2" width="63.1" height="5.8"/><rect x="490" y="15.8" width="63.1" height="38.1"/></g><g fill="#002060"><rect x="506.7" y="19.9" width="7.2" height="5.2"/><rect x="517.8" y="19.9" width="7.2" height="5.2"/><rect x="528.9" y="19.9" width="7.2" height="5.2"/><rect x="540.0" y="19.9" width="7.2" height="5.2"/><rect x="495.6" y="28.2" width="7.2" height="5.2"/><rect x="506.7" y="28.2" width="7.2" height="5.2"/><rect x="517.8" y="28.2" width="7.2" height="5.2"/><rect x="528.9" y="28.2" width="7.2" height="5.2"/><rect x="540.0" y="28.2" width="7.2" height="5.2"/><rect x="495.6" y="36.5" width="7.2" height="5.2"/><rect x="506.7" y="36.5" width="7.2" height="5.2"/><rect x="517.8" y="36.5" width="7.2" height="5.2"/><rect x="528.9" y="36.5" width="7.2" height="5.2"/><rect x="540.0" y="36.5" width="7.2" height="5.2"/><rect x="495.6" y="44.8" width="7.2" height="5.2"/><rect x="506.7" y="44.8" width="7.2" height="5.2"/><rect x="517.8" y="44.8" width="7.2" height="5.2"/></g><path d="M469.9 34.4 a14.6 4.4 0 0 1 29.2 0 V56.6 a14.6 4.4 0 0 1 -29.2 0 Z" fill="#fff"/><path d="M469.9 33.9 A14.6 3.9 0 0 0 491.5 37.4" fill="none" stroke="#002060" stroke-width="1.25"/><rect x="494.9" y="36.5" width="0.9" height="1.8" fill="#002060" opacity="0.55"/><path d="M469.9 41.8 A14.6 3.9 0 0 0 491.5 45.2" fill="none" stroke="#002060" stroke-width="1.25"/><rect x="494.9" y="44.4" width="0.9" height="1.8" fill="#002060" opacity="0.55"/><path d="M469.9 49.7 A14.6 3.9 0 0 0 491.5 53.2" fill="none" stroke="#002060" stroke-width="1.25"/><rect x="494.8" y="57.3" width="1.3" height="1.4" fill="#002060"/>
<g><rect x="660.3" y="5.9" width="71.7" height="43.3" rx="3.4" fill="#fff"/><rect x="660.3" y="38.9" width="71.7" height="2.7" fill="#002060"/><path d="M686.5 61.9 V58.6 Q686.5 56.2 689 55.6 Q690.6 52.3 693.6 52.3 H698.8 Q701.8 52.3 703.4 55.6 Q705.9 56.2 705.9 58.6 V61.9 Z" fill="#fff"/><g transform="translate(696.3,13.4)" fill="#000" stroke="none"><rect x="-3.1" y="0" width="6.2" height="8.6" rx="1.6"/><rect x="-3.8" y="9.2" width="7.6" height="2.1" rx="0.9"/><rect x="-0.6" y="11" width="1.2" height="4"/><path d="M-6.4 5.4 h2 v0.9 h-0.6 v3.6 h2 v0.9 h-2.9 v-4.5 h-0.5z M6.4 5.4 h-2 v0.9 h0.6 v3.6 h-2 v0.9 h2.9 v-4.5 h0.5z"/><path d="M0 14.4 L-4.4 16.2 V17.9 H-3.4 V16.9 L0 15.6 L3.4 16.9 V17.9 H4.4 V16.2 Z"/><rect x="-0.5" y="15" width="1" height="3"/></g></g>
<g fill="#e8fbff"><rect x="845" y="6" width="31.9" height="3.8"/><rect x="845" y="12.4" width="24.6" height="3.6"/><rect x="845" y="56.8" width="65.1" height="4"/><path d="M892.9 22.5 V5.7 A16.9 16.9 0 1 0 909.8 22.6 H892.9 Z"/></g><g fill="#002060"><path d="M866.7 55 V32 Q866.7 27.2 871.5 27.2 H885.2 Q890 27.2 890 32 V55 Z"/><path d="M888.4 55 V40.6 Q888.4 36.6 892.4 36.6 H912 V55 Z"/></g><g fill="#e8fbff"><path d="M847 53.6 V23.4 Q847 20.6 849.8 20.6 H863.3 Q866.1 20.6 866.1 23.4 V53.6 Z"/><path d="M869 53.6 V32.2 Q869 29.4 871.8 29.4 H885 Q887.8 29.4 887.8 32.2 V53.6 Z"/><path d="M890.7 53.6 V41.7 Q890.7 38.9 893.5 38.9 H906.9 Q909.7 38.9 909.7 41.7 V53.6 Z"/></g>
</svg>
</body></html>
